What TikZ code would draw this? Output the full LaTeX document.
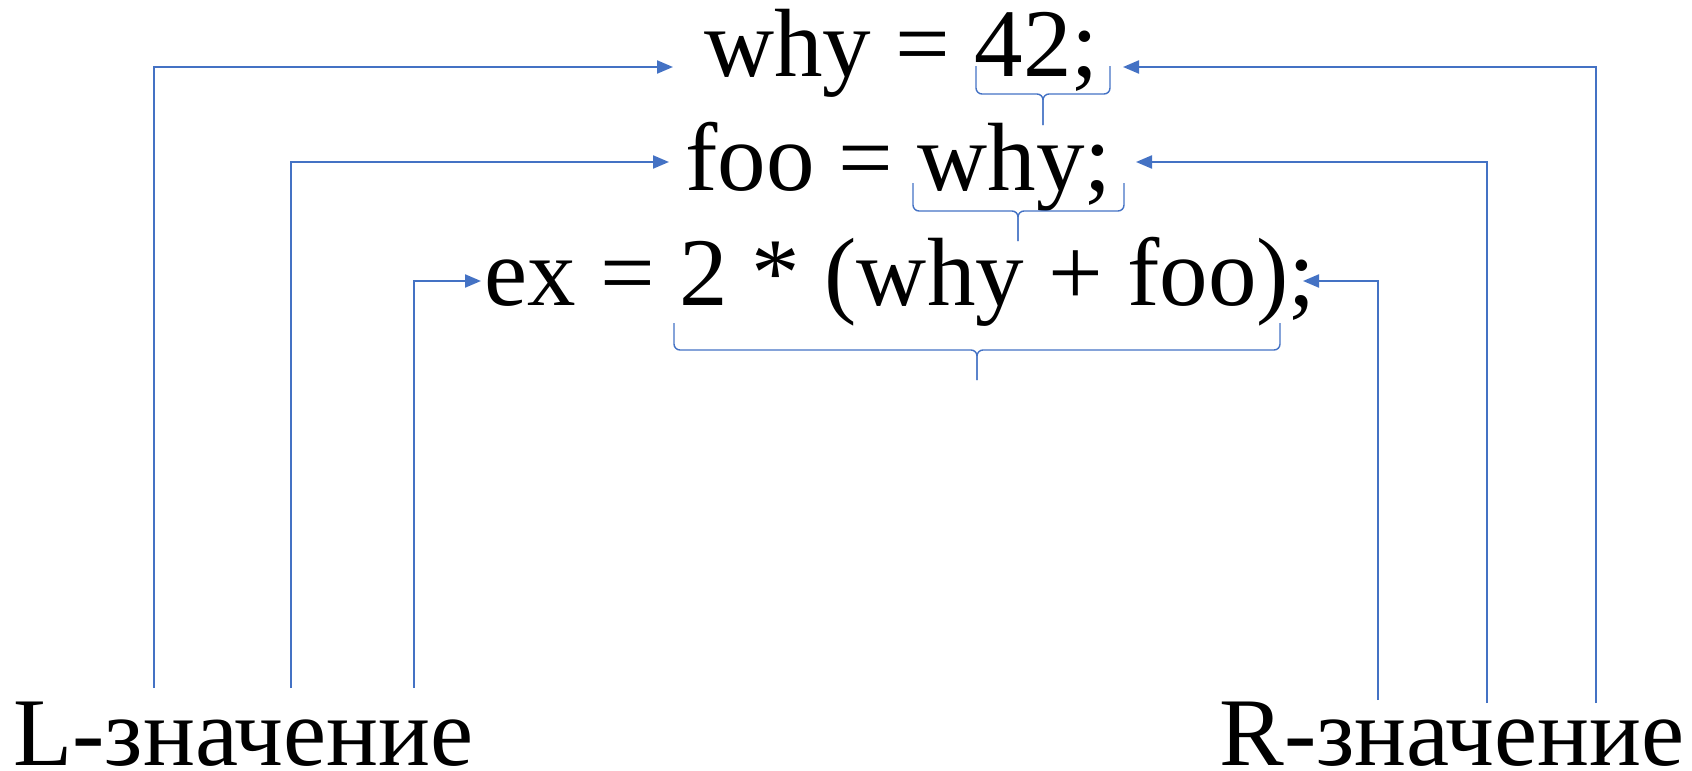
\documentclass[tikz,border=0pt]{standalone}
\usepackage{fontspec}
\setmainfont{Liberation Serif}
\usetikzlibrary{arrows.meta}
\definecolor{ppblue}{HTML}{4472C4}
\tikzset{
	link/.style={draw=ppblue, line width=1.05pt, -{Triangle[length=8pt,width=6.5pt]}},
	brc/.style={draw=ppblue, line width=0.7pt, rounded corners=3pt},
	code/.style={anchor=base west, inner sep=0pt, font=\fontsize{48.5}{58}\selectfont},
}
\begin{document}
\begin{tikzpicture}[x=0.5pt,y=-0.5pt]
	\useasboundingbox (0,0) rectangle (1692,771);
	\path
	coordinate (lf1) at (154,688)
	coordinate (lf2) at (291,688)
	coordinate (lf3) at (414,688)
	coordinate (rf3) at (1378,700)
	coordinate (rf2) at (1487,703)
	coordinate (rf1) at (1596,703)
	coordinate (lt1) at (673,67)
	coordinate (lt2) at (669,162)
	coordinate (lt3) at (481,281)
	coordinate (rt1) at (1123,67)
	coordinate (rt2) at (1136,162)
	coordinate (rt3) at (1303,281)
	;
	\node[code] (st1) at (704,76) {why = 42;};
	\node[code] (st2) at (685,190) {foo = why;};
	\node[code] (st3) at (484,305) {ex = 2 * (why + foo);};
	\node[code] (lval) at (13,765) {L-значение};
	\node[code] (rval) at (1219,765) {R-значение};
	\draw[link] (lf1) |- (lt1);
	\draw[link] (lf2) |- (lt2);
	\draw[link] (lf3) |- (lt3);
	\draw[link] (rf1) |- (rt1);
	\draw[link] (rf2) |- (rt2);
	\draw[link] (rf3) |- (rt3);
	\draw[brc] (976,66) |- (1043,94) -- (1043,125);
	\draw[brc] (1110,66) |- (1043,94) -- (1043,125);
	\draw[brc] (913,183) |- (1018,211) -- (1018,241);
	\draw[brc] (1124,183) |- (1018,211) -- (1018,241);
	\draw[brc] (674,323) |- (977,350) -- (977,380);
	\draw[brc] (1280,323) |- (977,350) -- (977,380);
\end{tikzpicture}
\end{document}
